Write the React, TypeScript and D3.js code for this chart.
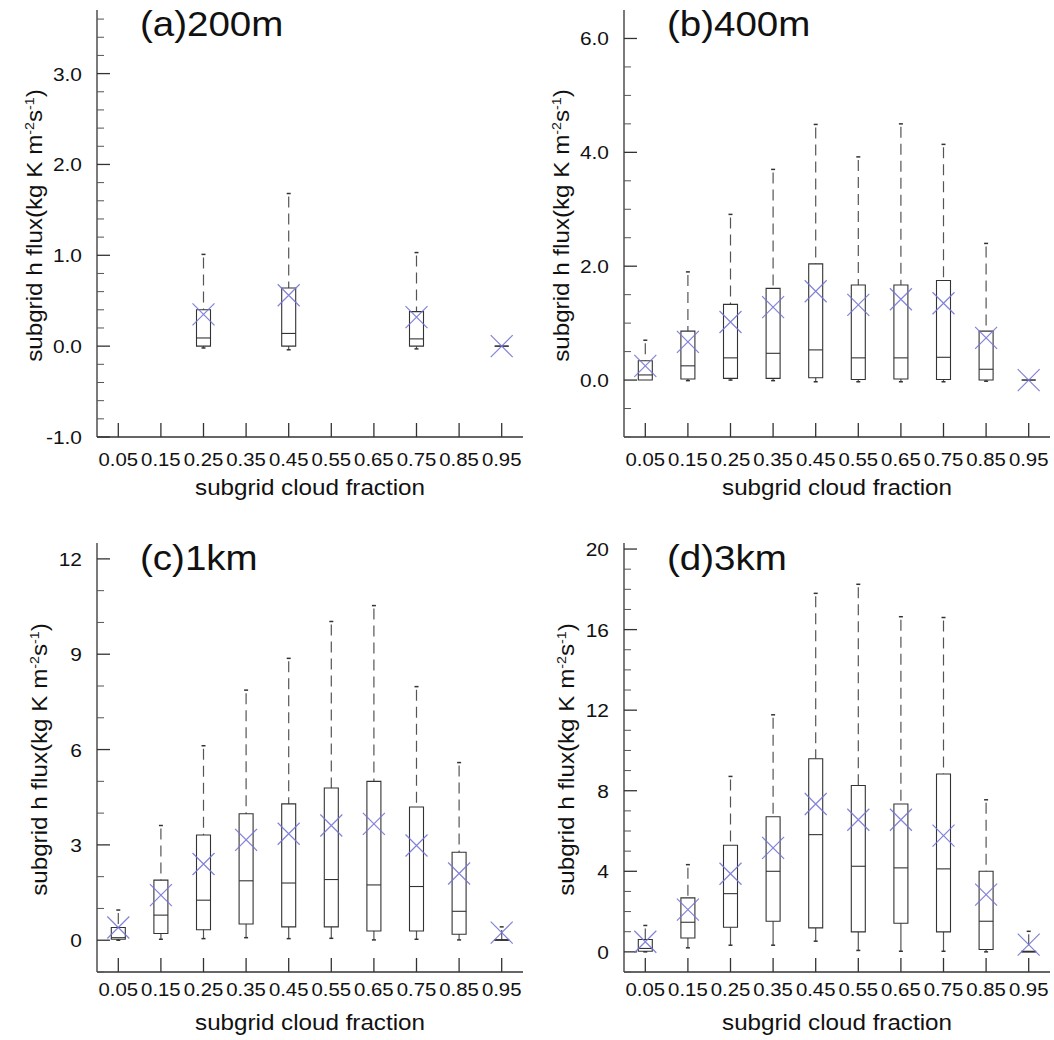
import React from "react";
import * as d3 from "d3";

// cloud fraction bins
const fractions = [0.05, 0.15, 0.25, 0.35, 0.45, 0.55, 0.65, 0.75, 0.85, 0.95];
const xTickLabels = ["0.05", "0.15", "0.25", "0.35", "0.45", "0.55", "0.65", "0.75", "0.85", "0.95"];

// (a) 200m  -- null = no sample in that bin
const loA = [null, null, -0.02, null, -0.04, null, null, -0.03, null, 0];
const q1A = [null, null, 0, null, 0, null, null, 0, null, 0];
const medA = [null, null, 0.09, null, 0.14, null, null, 0.08, null, 0];
const q3A = [null, null, 0.4, null, 0.64, null, null, 0.38, null, 0];
const hiA = [null, null, 1.01, null, 1.68, null, null, 1.03, null, 0];
const meanA = [null, null, 0.35, null, 0.56, null, null, 0.32, null, 0];

// (b) 400m
const loB = [0, -0.01, 0, -0.01, -0.03, -0.03, -0.03, -0.03, -0.02, 0];
const q1B = [0, 0.02, 0.03, 0.03, 0.04, 0.01, 0.02, 0.01, 0, 0];
const medB = [0.09, 0.25, 0.39, 0.47, 0.53, 0.39, 0.39, 0.4, 0.19, 0];
const q3B = [0.34, 0.86, 1.33, 1.61, 2.04, 1.67, 1.67, 1.75, 0.86, 0];
const hiB = [0.7, 1.9, 2.91, 3.7, 4.49, 3.92, 4.5, 4.14, 2.4, 0];
const meanB = [0.25, 0.67, 1.02, 1.28, 1.56, 1.32, 1.42, 1.35, 0.74, 0];

// (c) 1km
const loC = [0, 0.03, 0.05, 0.08, 0.05, 0.06, 0.01, 0.03, 0.01, 0];
const q1C = [0.03, 0.21, 0.33, 0.51, 0.42, 0.42, 0.29, 0.29, 0.19, 0];
const medC = [0.08, 0.79, 1.26, 1.87, 1.8, 1.91, 1.74, 1.69, 0.91, 0];
const q3C = [0.4, 1.89, 3.31, 3.98, 4.29, 4.79, 5.0, 4.19, 2.77, 0.02];
const hiC = [0.95, 3.61, 6.12, 7.87, 8.87, 10.03, 10.53, 7.98, 5.59, 0.42];
const meanC = [0.4, 1.42, 2.4, 3.16, 3.35, 3.61, 3.66, 2.98, 2.1, 0.24];

// (d) 3km
const loD = [0, 0.2, 0.33, 0.33, 0.53, 0.07, 0.03, 0.03, 0, 0];
const q1D = [0.03, 0.69, 1.22, 1.52, 1.19, 0.99, 1.42, 0.99, 0.12, 0];
const medD = [0.17, 1.47, 2.89, 4.0, 5.82, 4.25, 4.17, 4.12, 1.52, 0];
const q3D = [0.61, 2.68, 5.29, 6.71, 9.59, 8.26, 7.34, 8.83, 4.0, 0.03];
const hiD = [1.31, 4.33, 8.71, 11.77, 17.8, 18.25, 16.64, 16.6, 7.55, 1.02];
const meanD = [0.5, 2.1, 3.88, 5.16, 7.34, 6.56, 6.56, 5.77, 2.84, 0.36];

// y ticks
const yTicksA = [-1, 0, 1, 2, 3];
const yTicksB = [0, 2, 4, 6];
const yTicksC = [0, 3, 6, 9, 12];
const yTicksD = [0, 4, 8, 12, 16, 20];

const FONT = "'Liberation Sans', Arial, Helvetica, sans-serif";
const SX = 1.1; // reference glyphs are set a bit wide
const MEAN_COLOR = "#7474d4";

// plain hyphen for negatives, like the original
const fmt1 = (v) => d3.format(".1f")(v).replace("\u2212", "-");
const fmt0 = (v) => d3.format("d")(v).replace("\u2212", "-");

const panels = [
  { title: "(a)200m", left: 97, top: 10, bottom: 437, domain: [-1, 3.7], ticks: yTicksA, minor: 0.2, fmt: fmt1,
    lo: loA, q1: q1A, med: medA, q3: q3A, hi: hiA, mean: meanA, yLabX: 42, xLabDy: 29 },
  { title: "(b)400m", left: 624, top: 10, bottom: 437, domain: [-1, 6.5], ticks: yTicksB, minor: 0.5, fmt: fmt1,
    lo: loB, q1: q1B, med: medB, q3: q3B, hi: hiB, mean: meanB, yLabX: 569, xLabDy: 29 },
  { title: "(c)1km", left: 97, top: 543, bottom: 972, domain: [-1, 12.5], ticks: yTicksC, minor: 1, fmt: fmt0,
    lo: loC, q1: q1C, med: medC, q3: q3C, hi: hiC, mean: meanC, yLabX: 47, xLabDy: 24 },
  { title: "(d)3km", left: 624, top: 543, bottom: 972, domain: [-1, 20.3], ticks: yTicksD, minor: 1, fmt: fmt0,
    lo: loD, q1: q1D, med: medD, q3: q3D, hi: hiD, mean: meanD, yLabX: 574, xLabDy: 24 },
];

function Label({ x, y, size, anchor = "start", rotate = 0, children }) {
  return (
    <text
      transform={`translate(${x},${y}) rotate(${rotate}) scale(${SX},1)`}
      fontSize={size}
      fontFamily={FONT}
      textAnchor={anchor}
      fill="#111"
    >
      {children}
    </text>
  );
}

function Panel({ p }) {
  const width = 426;
  const x = d3.scaleLinear().domain([0, 1]).range([p.left, p.left + width]);
  const y = d3.scaleLinear().domain(p.domain).range([p.bottom, p.top]);
  const eps = 1e-6;
  const minors = d3
    .range(p.domain[0], p.domain[1] + eps, p.minor)
    .filter((v) => !p.ticks.some((t) => Math.abs(t - v) < eps) && v < p.domain[1] - eps);
  const half = 7;
  const axisColor = "#333";

  return (
    <g>
      {/* panel title */}
      <Label x={p.left + 43} y={p.top + 26 + (p.top > 100 ? 1 : 0)} size={35}>{p.title}</Label>

      {/* axes */}
      <line x1={p.left} x2={p.left} y1={p.top} y2={p.bottom} stroke={axisColor} strokeWidth={1.3} />
      <line x1={p.left} x2={p.left + width} y1={p.bottom} y2={p.bottom} stroke={axisColor} strokeWidth={1.3} />

      {minors.map((v, i) => (
        <line key={"mn" + i} x1={p.left} x2={p.left + 7} y1={y(v)} y2={y(v)} stroke="#555" strokeWidth={1} />
      ))}
      {p.ticks.map((v) => (
        <g key={"mj" + v}>
          <line x1={p.left} x2={p.left + 13} y1={y(v)} y2={y(v)} stroke={axisColor} strokeWidth={1.3} />
          <Label x={p.left - 15} y={y(v) + 7} size={19} anchor="end">{p.fmt(v)}</Label>
        </g>
      ))}

      {fractions.map((f, i) => (
        <g key={"xt" + i}>
          <line x1={x(f)} x2={x(f)} y1={p.bottom} y2={p.bottom - 14} stroke={axisColor} strokeWidth={1.3} />
          <Label x={x(f)} y={p.bottom + p.xLabDy} size={18.5} anchor="middle">{xTickLabels[i]}</Label>
        </g>
      ))}

      <Label x={p.left + width / 2} y={p.bottom + 58} size={22} anchor="middle">subgrid cloud fraction</Label>
      <Label x={p.yLabX} y={(p.top + p.bottom) / 2 + 2} size={22} anchor="middle" rotate={-90}>
        subgrid h flux(kg K m<tspan dy={-8} fontSize={13}>-2</tspan>
        <tspan dy={8}>s</tspan>
        <tspan dy={-8} fontSize={13}>-1</tspan>
        <tspan dy={8}>)</tspan>
      </Label>

      {/* boxes */}
      {fractions.map((f, i) => {
        if (p.q1[i] === null) return null;
        const cx = x(f);
        const yq1 = y(p.q1[i]);
        const yq3 = y(p.q3[i]);
        const yhi = y(p.hi[i]);
        const ylo = y(p.lo[i]);
        const ym = y(p.med[i]);
        const ymean = y(p.mean[i]);
        return (
          <g key={"bx" + i}>
            {yq3 - yhi > 0.5 && (
              <>
                <line x1={cx} x2={cx} y1={yhi + 3} y2={yq3} stroke="#555" strokeWidth={1.2} strokeDasharray="11,6" />
                <line x1={cx - 2} x2={cx + 2} y1={yhi} y2={yhi} stroke="#333" strokeWidth={1.5} />
              </>
            )}
            {ylo - yq1 > 0.5 && (
              <>
                <line x1={cx} x2={cx} y1={yq1} y2={ylo} stroke="#555" strokeWidth={1.2} />
                <line x1={cx - 2} x2={cx + 2} y1={ylo} y2={ylo} stroke="#333" strokeWidth={1.5} />
              </>
            )}
            <path
              d={`M${cx - half},${yq1}H${cx + half}V${yq3}H${cx - half}Z`}
              fill="none"
              stroke="#333"
              strokeWidth={1.1}
            />
            <line x1={cx - half} x2={cx + half} y1={ym} y2={ym} stroke="#333" strokeWidth={1.1} />
            <path
              d={`M${cx - 11},${ymean - 11}L${cx + 11},${ymean + 11}M${cx - 11},${ymean + 11}L${cx + 11},${ymean - 11}`}
              stroke={MEAN_COLOR}
              strokeWidth={1.2}
              fill="none"
              opacity={0.9}
            />
          </g>
        );
      })}
    </g>
  );
}

export default function App() {
  return (
    <svg
      width={1054}
      height={1040}
      style={{ position: "absolute", left: 0, top: 0, background: "#fff" }}
    >
      <rect width={1054} height={1040} fill="#fff" />
      {panels.map((p) => (
        <Panel key={p.title} p={p} />
      ))}
    </svg>
  );
}
